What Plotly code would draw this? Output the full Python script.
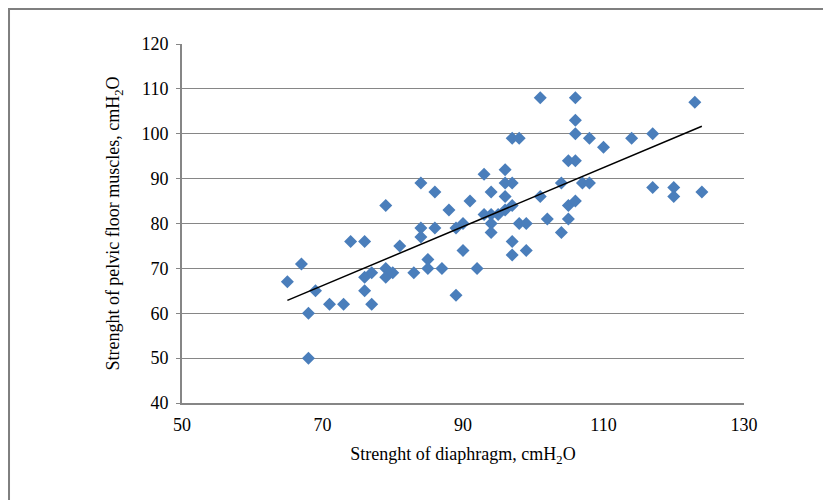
import numpy as np
import plotly.graph_objects as go

diaphragm = [65, 67, 68, 68, 69, 71, 73, 74, 76, 76, 76, 77, 77, 79, 79, 80, 81, 79, 83,
             84, 84, 84, 85, 85, 86, 86, 87, 88, 89, 89, 90, 90, 91, 92, 93, 93, 94, 94, 94, 94,
             95, 96, 96, 96, 96, 97, 97, 97, 97, 97, 98, 98, 99, 99,
             101, 101, 102, 104, 104, 105, 105, 105, 106, 106, 106, 106, 106, 107, 108, 108,
             110, 114, 117, 117, 120, 120, 123, 124]
pelvic = [67, 71, 60, 50, 65, 62, 62, 76, 76, 65, 68, 69, 62, 70, 68, 69, 75, 84, 69,
          89, 79, 77, 72, 70, 87, 79, 70, 83, 79, 64, 80, 74, 85, 70, 91, 82, 87, 82, 80, 78,
          82, 92, 89, 86, 83, 89, 84, 76, 73, 99, 99, 80, 80, 74,
          108, 86, 81, 89, 78, 94, 84, 81, 108, 103, 100, 94, 85, 89, 99, 89,
          97, 99, 100, 88, 88, 86, 107, 87]

x_ticks = [50, 70, 90, 110, 130]
y_ticks = [40, 50, 60, 70, 80, 90, 100, 110, 120]

slope, intercept = np.polyfit(diaphragm, pelvic, 1)
fx = [min(diaphragm), max(diaphragm)]
fy = [slope * v + intercept for v in fx]

font = "Liberation Serif, Times New Roman, serif"
grid = "#868686"

fig = go.Figure()
fig.add_trace(go.Scatter(x=diaphragm, y=pelvic, mode="markers",
                         marker=dict(symbol="diamond", size=10, color="#4A7EBB",
                                     line=dict(width=0)),
                         showlegend=False))
fig.add_trace(go.Scatter(x=fx, y=fy, mode="lines",
                         line=dict(color="black", width=1.5), showlegend=False))

fig.update_layout(
    width=831, height=500,
    margin=dict(l=174, r=95, t=36, b=105),
    paper_bgcolor="white", plot_bgcolor="white",
    font=dict(family=font, size=18, color="black"),
    xaxis=dict(range=[50, 130], tickvals=x_ticks, showgrid=False, zeroline=False,
               showline=True, linecolor=grid, linewidth=2, ticks="",
               tickfont=dict(size=18), ticklabelstandoff=4,
               title=dict(text="Strenght of diaphragm, cmH<sub>2</sub>O",
                          font=dict(size=18), standoff=14)),
    yaxis=dict(range=[40, 120], tickvals=y_ticks, showgrid=True, gridcolor=grid,
               gridwidth=1, zeroline=False, showline=True, linecolor=grid, linewidth=2,
               ticks="outside", ticklen=4, tickcolor=grid,
               tickfont=dict(size=18), ticklabelstandoff=4,
               title=dict(text="Strenght of pelvic floor muscles, cmH<sub>2</sub>O",
                          font=dict(size=18), standoff=17)),
    shapes=[dict(type="rect", xref="paper", yref="paper",
                 x0=-0.3078, x1=1.3, y0=-0.5, y1=1.0975,
                 line=dict(color="#7f7f7f", width=2), layer="below")],
)

fig.write_html("out.html")
